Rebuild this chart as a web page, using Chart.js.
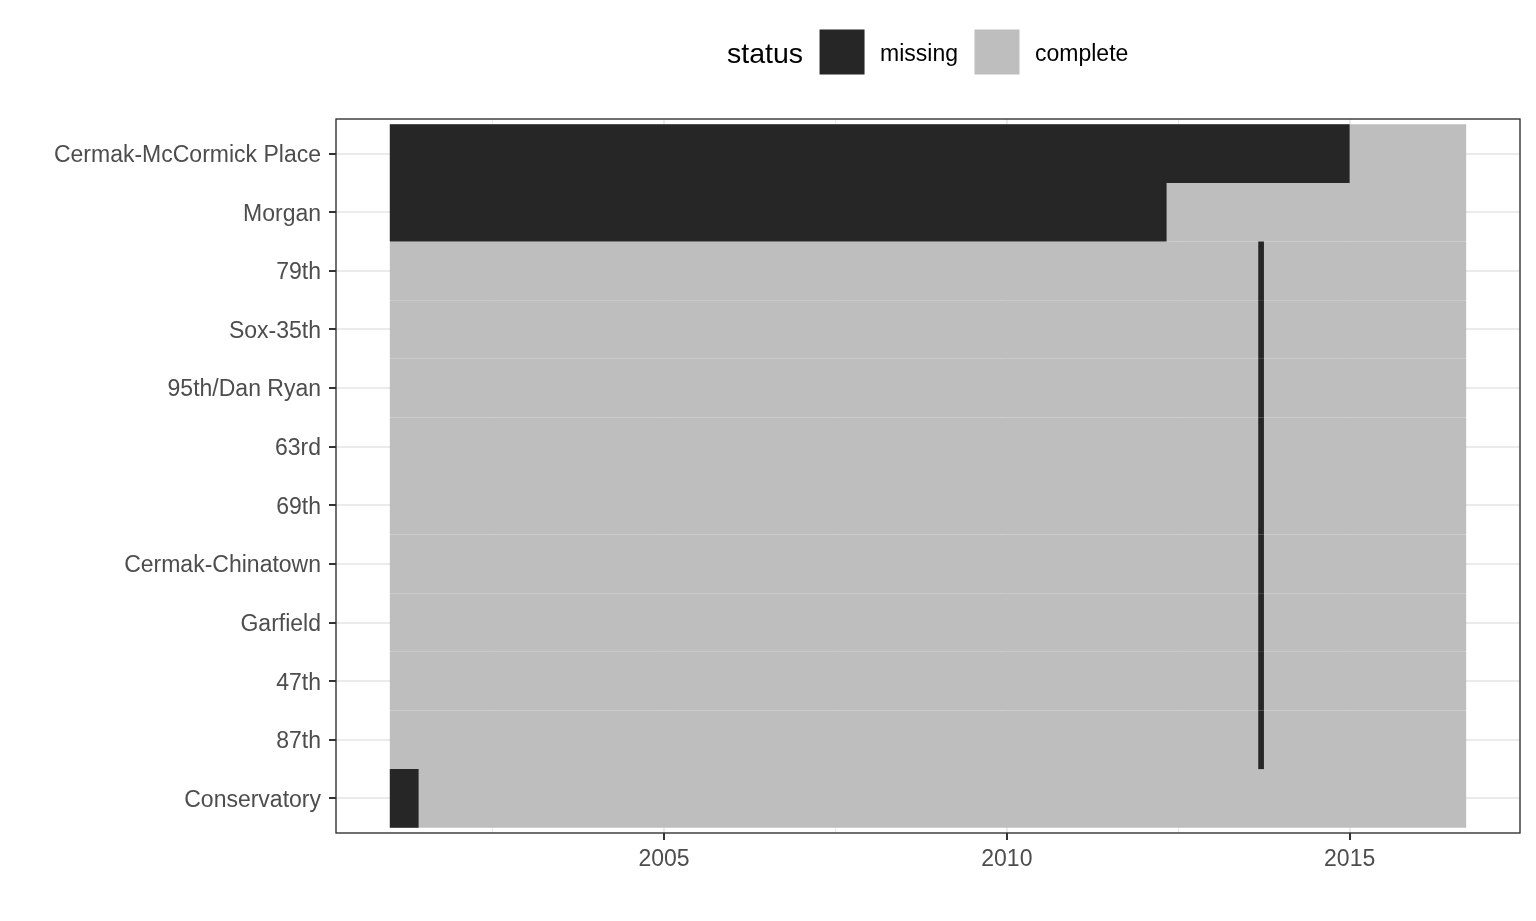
<!DOCTYPE html>
<html>
<head>
<meta charset="utf-8">
<script src="https://cdn.jsdelivr.net/npm/chart.js@4"></script>
<style>
html,body{margin:0;padding:0;background:#ffffff}
#wrap{position:relative;width:1536px;height:921px}
</style>
</head>
<body>
<div id="wrap"><canvas id="c"></canvas></div>
<script>
// ---- data ----
const stations = ["Cermak-McCormick Place","Morgan","79th","Sox-35th","95th/Dan Ryan","63rd","69th","Cermak-Chinatown","Garfield","47th","87th","Conservatory"];
const recordStart = [2001.0,2001.0,2001.0,2001.0,2001.0,2001.0,2001.0,2001.0,2001.0,2001.0,2001.0,2001.0];
const recordEnd   = [2016.70,2016.70,2016.70,2016.70,2016.70,2016.70,2016.70,2016.70,2016.70,2016.70,2016.70,2016.70];
const missingStart = [2001.0,2001.0,2013.667,2013.667,2013.667,2013.667,2013.667,2013.667,2013.667,2013.667,2013.667,2001.0];
const missingEnd   = [2015.0,2012.33,2013.75,2013.75,2013.75,2013.75,2013.75,2013.75,2013.75,2013.75,2013.75,2001.42];
const statusLabels = ["missing","complete"];
const statusColors = ["#262626","#BEBEBE"];
const xTickValues = [2002.5,2005,2007.5,2010,2012.5,2015];
const legendTitle = "status";

const FONT = "'Liberation Sans', Arial, Helvetica, sans-serif";

const panelAndLegend = {
  id: 'panelAndLegend',
  afterDatasetsDraw(chart) {
    const {ctx, chartArea: a} = chart;
    ctx.save();
    ctx.strokeStyle = '#333333';
    ctx.lineWidth = 1.4;
    ctx.strokeRect(a.left, a.top, a.right - a.left, a.bottom - a.top);
    ctx.restore();
  },
  afterDraw(chart) {
    const ctx = chart.ctx;
    ctx.save();
    ctx.textBaseline = 'alphabetic';
    ctx.textAlign = 'left';
    ctx.fillStyle = '#000000';
    ctx.font = '28.5px ' + FONT;
    let x = 727;
    ctx.fillText(legendTitle, x, 63.3);
    x += ctx.measureText(legendTitle).width + 16.5;
    ctx.font = '23px ' + FONT;
    chart.data.datasets.forEach((ds) => {
      ctx.fillStyle = ds.backgroundColor;
      ctx.fillRect(x, 29.5, 45, 45);
      x += 45 + 15.5;
      ctx.fillStyle = '#000000';
      ctx.fillText(ds.label, x, 61.2);
      x += ctx.measureText(ds.label).width + 16.5;
    });
    ctx.restore();
  }
};

new Chart(document.getElementById('c'), {
  type: 'bar',
  data: {
    datasets: [
      {
        label: statusLabels[0],
        backgroundColor: statusColors[0],
        data: stations.map((s, i) => ({x: [missingStart[i], missingEnd[i]], y: i}))
      },
      {
        label: statusLabels[1],
        backgroundColor: statusColors[1],
        data: stations.map((s, i) => ({x: [recordStart[i], recordEnd[i]], y: i}))
      }
    ]
  },
  options: {
    indexAxis: 'y',
    responsive: true,
    maintainAspectRatio: false,
    animation: false,
    layout: {padding: {top: 119, right: 16, bottom: 0, left: 0}},
    datasets: {
      bar: {grouped: false, categoryPercentage: 1, barPercentage: 1, borderWidth: 0, inflateAmount: 0}
    },
    plugins: {
      legend: {display: false},
      tooltip: {enabled: false}
    },
    scales: {
      x: {
        type: 'linear',
        position: 'bottom',
        min: 2000.215,
        max: 2017.485,
        bounds: 'data',
        offset: false,
        afterBuildTicks: (s) => { s.ticks = xTickValues.map(v => ({value: v})); },
        afterFit: (s) => { s.height = 88; },
        border: {display: false},
        grid: {
          offset: false,
          color: '#EBEBEB',
          lineWidth: (c) => (c.tick && c.tick.value % 5 === 0) ? 2 : 1,
          tickLength: 7,
          tickWidth: 2,
          tickColor: (c) => (c.tick && c.tick.value % 5 === 0) ? '#333333' : 'rgba(0,0,0,0)'
        },
        ticks: {
          autoSkip: false,
          maxRotation: 0,
          padding: 6,
          color: '#4D4D4D',
          font: {family: FONT, size: 23},
          callback: (v) => (v % 5 === 0) ? String(v) : ''
        }
      },
      y: {
        type: 'linear',
        position: 'left',
        reverse: true,
        min: -0.59,
        max: 11.59,
        bounds: 'data',
        offset: false,
        afterBuildTicks: (s) => { s.ticks = stations.map((_, i) => ({value: i})); },
        afterFit: (s) => { s.width = 336; },
        border: {display: false},
        grid: {
          offset: false,
          color: '#EBEBEB',
          lineWidth: 2,
          tickLength: 7,
          tickWidth: 2,
          tickColor: '#333333'
        },
        ticks: {
          autoSkip: false,
          padding: 8,
          labelOffset: 2,
          color: '#4D4D4D',
          font: {family: FONT, size: 23},
          callback: (v) => stations[Math.round(v)]
        }
      }
    }
  },
  plugins: [panelAndLegend]
});
</script>
</body>
</html>
